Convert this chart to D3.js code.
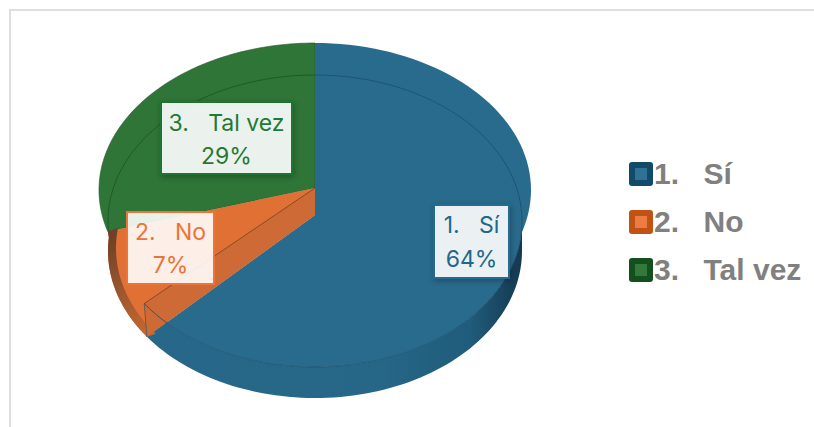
<!DOCTYPE html>
<html><head><meta charset="utf-8">
<script src="https://cdnjs.cloudflare.com/ajax/libs/d3/7.8.5/d3.min.js"></script>
<style>html,body{margin:0;padding:0;background:#fff;overflow:hidden}svg{display:block}text{white-space:pre}</style>
</head><body><svg id="c" width="814" height="427"></svg>
<script>
const numbers = ["1.", "2.", "3."];
const categories = ["Sí", "No", "Tal vez"];
const values = [64, 7, 29];
const labelTexts = ["64%", "7%", "29%"];
const colors = ["#296b8d", "#e07033", "#2f7537"];
const darkColors = ["#124a6a", "#c05314", "#14501e"];
const legendInner = ["#2e7296", "#ec7c43", "#33793a"];
const textColors = ["#1f678c", "#ec7437", "#1f7a36"];
const borderColors = ["#256a8f", "#ec7437", "#1d7433"];

const svg = d3.select("#c");
const defs = svg.append("defs");
const W = 814, H = 427;

// frame
svg.append("path").attr("d", `M10,${H}V10H${W}`).attr("fill", "none").attr("stroke", "#dedede").attr("stroke-width", 2);

const cx = 315;
const pie = d3.pie().sort(null).value(d => d)(values);
const cap = {c: 190, rx: 216, ry: 147};
const rim = {c: 221, rx: 207, ry: 146};
const bot = {c: 251, rx: 207, ry: 147};
const apexY = 188, wallY = 215;
const line = d3.line();
// direction of a pie angle as seen in the tilted view
const dir = a => [Math.sin(a) * 220, -Math.cos(a) * (Math.cos(a) > 0 ? 145 : 180)];
function hit(a, e, ay, k = 1) {
  const [dx, dy0] = dir(a);
  const dy = dy0 * k;
  const oy = ay - e.c;
  const A = dx*dx/(e.rx*e.rx) + dy*dy/(e.ry*e.ry);
  const B = 2*oy*dy/(e.ry*e.ry);
  const C = oy*oy/(e.ry*e.ry) - 1;
  const t = (-B + Math.sqrt(B*B - 4*A*C)) / (2*A);
  return [cx + dx*t, ay + dy*t];
}
const param = (p, e) => Math.atan2((p[0]-cx)/e.rx, -(p[1]-e.c)/e.ry);
function arcPts(e, a0, a1) {
  return d3.range(0, 81).map(i => {
    const a = a0 + (a1-a0)*i/80;
    return [cx + e.rx*Math.sin(a), e.c - e.ry*Math.cos(a)];
  });
}
const pos = a => a < 0 ? a + 2*Math.PI : a;
const [blue, orange, green] = pie;

defs.append("filter").attr("id","sh").attr("x","-20%").attr("y","-20%").attr("width","140%").attr("height","140%")
  .append("feDropShadow").attr("dx",1).attr("dy",2).attr("stdDeviation",3).attr("flood-color","#000").attr("flood-opacity",.3);
const g = defs.append("linearGradient").attr("id","side").attr("gradientUnits","userSpaceOnUse")
  .attr("x1",150).attr("x2",531).attr("y1",0).attr("y2",0);
[[0,"#27688a"],[.6,"#266686"],[.84,"#205c7c"],[.95,"#173f58"],[1,"#10344a"]].forEach(s=>g.append("stop").attr("offset",s[0]).attr("stop-color",s[1]));
const go = defs.append("linearGradient").attr("id","oside").attr("gradientUnits","userSpaceOnUse")
  .attr("x1",104).attr("x2",150).attr("y1",240).attr("y2",335);
[[0,"#6e4028"],[.5,"#9a5630"],[1,"#c8682f"]].forEach(s=>go.append("stop").attr("offset",s[0]).attr("stop-color",s[1]));

// green slice
const gA0 = pos(param(hit(green.startAngle, cap, apexY), cap));
svg.append("path").attr("fill", colors[2]).attr("stroke","#24552b").attr("stroke-width",.6)
  .attr("d", line([[cx,apexY], ...arcPts(cap, gA0, 2*Math.PI)]) + "Z");

// blue slice: upper cap, side band, lower face
const bEnd = hit(blue.endAngle, bot, wallY, 1.07);
const bA1 = pos(param(bEnd, bot));
const rimEnd = pos(param(hit(blue.endAngle, rim, apexY), rim));
svg.append("path").attr("fill", colors[0])
  .attr("d", line([[cx,apexY], ...arcPts(cap, 0, Math.PI)]) + "Z");
svg.append("path").attr("fill", "url(#side)")
  .attr("d", line([...arcPts(bot, Math.PI*0.5, bA1), ...arcPts(rim, rimEnd, Math.PI*0.5)]) + "Z");
svg.append("path").attr("fill", colors[0])
  .attr("d", line([[cx,apexY], [cx,wallY], bEnd, ...arcPts(rim, rimEnd, Math.PI/2)]) + "Z");

// orange slice
const oTop = hit(orange.endAngle, cap, apexY);
const oRim = hit(orange.startAngle, rim, apexY);
const oA0 = pos(param([oTop[0], oTop[1]+6], bot));
const oEdge = arcPts(bot, oA0, bA1);
svg.append("path").attr("fill", colors[1])
  .attr("d", line([[cx,apexY], oTop, ...oEdge, bEnd, [cx,wallY]]) + "Z");
// dark crescent on the outer edge
const inner = {c: 248, rx: 199, ry: 143};
svg.append("path").attr("fill", "url(#oside)")
  .attr("d", line([oTop, ...oEdge, ...arcPts(inner, bA1 - 0.02, oA0 + 0.05)]) + "Z");
// radial wall
svg.append("path").attr("fill", "#cd6a35")
  .attr("d", line([[cx,apexY], oRim, bEnd, [cx,wallY]]) + "Z");
svg.append("path").attr("fill", "none").attr("stroke", "#8a4a24").attr("stroke-width", 1)
  .attr("d", line([[cx,apexY], oRim]));
svg.append("path").attr("fill", "none").attr("stroke", "#6f5a50").attr("stroke-width", 1)
  .attr("d", line([oRim, bEnd]));

// rim lines
svg.append("path").attr("fill","none").attr("stroke","#1a4f6c").attr("stroke-width",1).attr("stroke-opacity",.8)
  .attr("d", line(arcPts(rim, 0, rimEnd)));
svg.append("path").attr("fill","none").attr("stroke","#1f5a28").attr("stroke-width",1)
  .attr("d", line(arcPts(rim, pos(param(hit(green.startAngle, rim, apexY), rim)), 2*Math.PI)));

// data labels: box and the two baselines
const boxes = [[434,205,75,73,233,267],[127,212,87,72,240,273],[161,102,131,72,131,164]];
values.forEach((v,i) => {
  const [x,y,w,h,b1,b2] = boxes[i];
  const lab = svg.append("g");
  lab.append("rect").attr("x",x).attr("y",y).attr("width",w).attr("height",h)
    .attr("fill","#fff").attr("fill-opacity",.89).attr("stroke",borderColors[i]).attr("stroke-width",2)
    .attr("filter", i===1?null:"url(#sh)");
  const t = lab.append("text").attr("text-anchor","middle").attr("font-family","Inter, sans-serif")
    .attr("font-size",23).attr("fill",textColors[i]);
  t.append("tspan").attr("x",x+w/2).attr("y",b1).text(numbers[i]+"   "+categories[i]);
  t.append("tspan").attr("x",x+w/2).attr("y",b2).text(labelTexts[i]);
});

// legend
const legendY = d3.scalePoint().domain(categories).range([174,270]);
categories.forEach((c,i) => {
  const y = legendY(c);
  svg.append("rect").attr("x",629).attr("y",y-12).attr("width",24).attr("height",24).attr("rx",3).attr("fill",darkColors[i]);
  svg.append("rect").attr("x",635).attr("y",y-6).attr("width",12).attr("height",12).attr("fill",legendInner[i]);
  const t = svg.append("text").attr("y",y+9.5).attr("font-family","'Liberation Sans', Arial, sans-serif")
    .attr("font-weight",700).attr("font-size",30).attr("fill","#808080");
  t.append("tspan").attr("x",654).text(numbers[i]);
  t.append("tspan").attr("x",703.5).text(c);
});
</script></body></html>
